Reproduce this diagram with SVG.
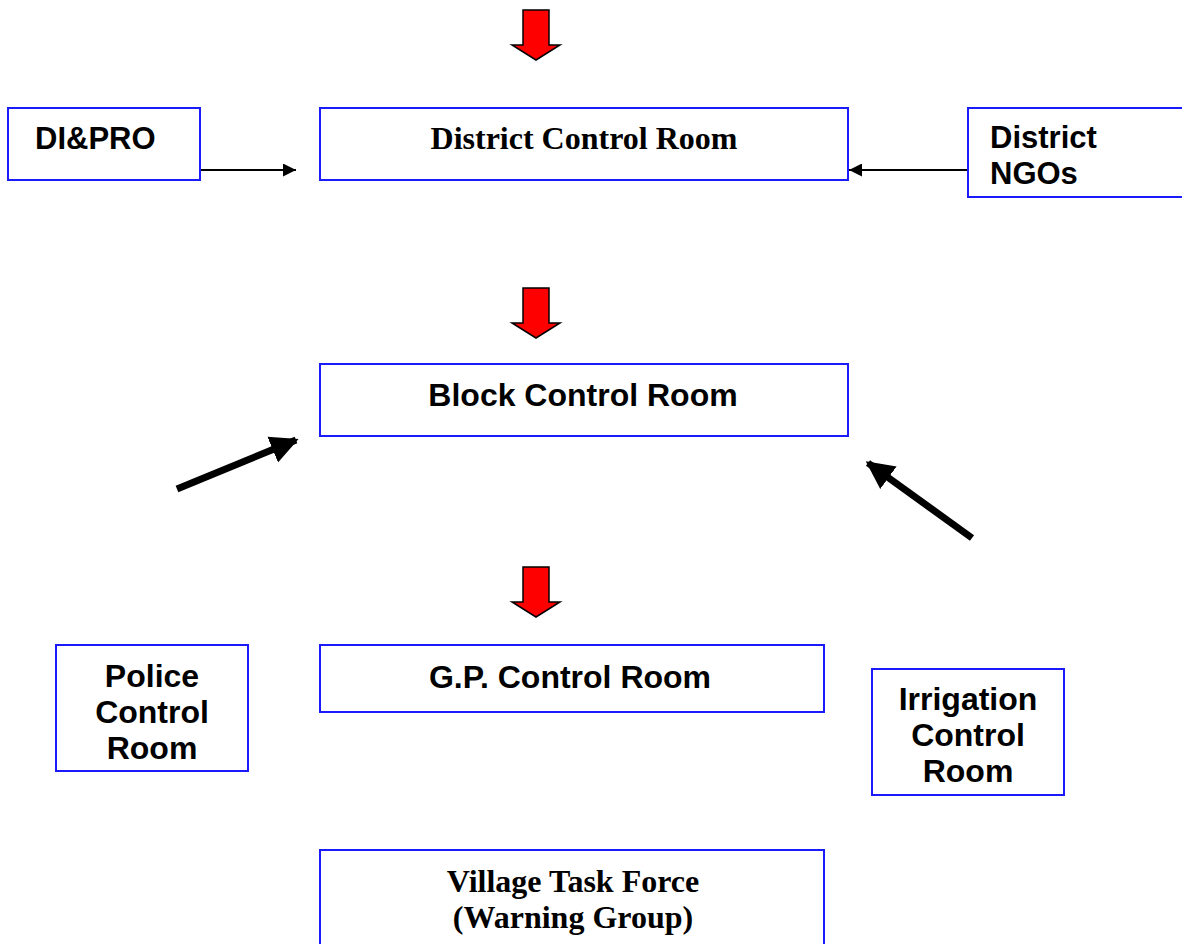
<svg xmlns="http://www.w3.org/2000/svg" width="1182" height="944" viewBox="0 0 1182 944">
<defs>
<style>
.box{fill:#fff;stroke:#1a1aff;stroke-width:2}
.sans{font-family:"Liberation Sans",Arial,sans-serif;font-weight:bold;font-size:32px;fill:#000}
.sm{font-size:31px}
.serif{font-family:"Liberation Serif","Times New Roman",serif;font-weight:bold;font-size:32px;fill:#000}
.thin{stroke:#000;stroke-width:2;fill:none}
.thick{stroke:#000;stroke-width:7;fill:none}
.red{fill:#ff0000;stroke:#000;stroke-width:1.5;stroke-linejoin:miter}
</style>
<marker id="ah" viewBox="0 0 10 10" refX="10" refY="5" markerWidth="16" markerHeight="13" markerUnits="userSpaceOnUse" orient="auto">
<path d="M0,0 L10,5 L0,10 Z" fill="#000"/>
</marker>
<marker id="ahb" viewBox="0 0 10 10" refX="9" refY="5" markerWidth="4" markerHeight="4.4" orient="auto">
<path d="M0,0 L10,5 L0,10 Z" fill="#000"/>
</marker>
<path id="redarrow" d="M-13,0 L13,0 L13,35 L24,35 L0,50 L-24,35 L-13,35 Z"/>
</defs>
<rect width="1182" height="944" fill="#fff"/>

<g id="connectors">
<use href="#redarrow" class="red" x="536" y="10"/>
<use href="#redarrow" class="red" x="536" y="288"/>
<use href="#redarrow" class="red" x="536" y="567"/>
<line class="thin" x1="200" y1="170" x2="296" y2="170" marker-end="url(#ah)"/>
<line class="thin" x1="968" y1="170" x2="849" y2="170" marker-end="url(#ah)"/>
<line class="thick" x1="177" y1="489" x2="296" y2="440" marker-end="url(#ahb)"/>
<line class="thick" x1="972" y1="538" x2="868" y2="463" marker-end="url(#ahb)"/>
</g>

<g id="diandpro">
<rect class="box" x="8" y="108" width="192" height="72"/>
<text class="sans sm" x="35" y="149">DI&amp;PRO</text>
</g>

<g id="district-control-room">
<rect class="box" x="320" y="108" width="528" height="72"/>
<text class="serif" x="584" y="149" text-anchor="middle">District Control Room</text>
</g>

<g id="district-ngos">
<rect class="box" x="968" y="108" width="220" height="89"/>
<text class="sans sm" x="990" y="148">District</text>
<text class="sans sm" x="990" y="184">NGOs</text>
</g>

<g id="block-control-room">
<rect class="box" x="320" y="364" width="528" height="72"/>
<text class="sans" x="583" y="406" text-anchor="middle">Block Control Room</text>
</g>

<g id="police-control-room">
<rect class="box" x="56" y="645" width="192" height="126"/>
<text class="sans" x="152" y="687" text-anchor="middle">Police</text>
<text class="sans" x="152" y="723" text-anchor="middle">Control</text>
<text class="sans" x="152" y="759" text-anchor="middle">Room</text>
</g>

<g id="gp-control-room">
<rect class="box" x="320" y="645" width="504" height="67"/>
<text class="sans" x="570" y="688" text-anchor="middle">G.P. Control Room</text>
</g>

<g id="irrigation-control-room">
<rect class="box" x="872" y="669" width="192" height="126"/>
<text class="sans" x="968" y="710" text-anchor="middle">Irrigation</text>
<text class="sans" x="968" y="746" text-anchor="middle">Control</text>
<text class="sans" x="968" y="782" text-anchor="middle">Room</text>
</g>

<g id="village-task-force">
<rect class="box" x="320" y="850" width="504" height="110"/>
<text class="serif" x="573" y="892" text-anchor="middle">Village Task Force</text>
<text class="serif" x="573" y="928" text-anchor="middle">(Warning Group)</text>
</g>
</svg>
